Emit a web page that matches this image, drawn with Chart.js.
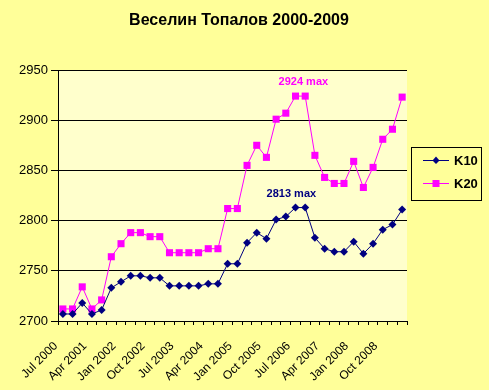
<!DOCTYPE html>
<html>
<head>
<meta charset="utf-8">
<script src="https://cdn.jsdelivr.net/npm/chart.js@4/dist/chart.umd.min.js"></script>
<style>
html,body{margin:0;padding:0;background:#FFFF99;}
#wrap{width:489px;height:390px;position:relative;}
</style>
</head>
<body>
<div id="wrap"><canvas id="c" width="489" height="390"></canvas></div>
<script>
const titleText = "Веселин Топалов 2000-2009";
const categories = ["Jul 2000","Oct 2000","Jan 2001","Apr 2001","Jul 2001","Oct 2001","Jan 2002","Apr 2002","Jul 2002","Oct 2002","Jan 2003","Apr 2003","Jul 2003","Oct 2003","Jan 2004","Apr 2004","Jul 2004","Oct 2004","Jan 2005","Apr 2005","Jul 2005","Oct 2005","Jan 2006","Apr 2006","Jul 2006","Oct 2006","Jan 2007","Apr 2007","Jul 2007","Oct 2007","Jan 2008","Apr 2008","Jul 2008","Oct 2008","Jan 2009","Apr 2009"];
const k10 = [2707,2707,2718,2707,2711,2733,2739,2745,2745,2743,2743,2735,2735,2735,2735,2737,2737,2757,2757,2778,2788,2782,2801,2804,2813,2813,2783,2772,2769,2769,2779,2767,2777,2791,2796,2811];
const k20 = [2712,2712,2734,2712,2721,2764,2777,2788,2788,2784,2784,2768,2768,2768,2768,2772,2772,2812,2812,2855,2875,2863,2901,2907,2924,2924,2865,2843,2837,2837,2859,2833,2853,2881,2891,2923];
const yTicks = [2700,2750,2800,2850,2900,2950];
const seriesNames = ["K10","K20"];
const maxLabels = ["2813 max","2924 max"];

const FONT = "'Liberation Sans', Arial, sans-serif";

const decor = {
  id:'decor',
  beforeDraw(chart){
    const ctx = chart.ctx, a = chart.chartArea;
    ctx.save();
    ctx.fillStyle = '#FFFF99';
    ctx.fillRect(0,0,chart.width,chart.height);
    ctx.fillStyle = '#FFFFCC';
    ctx.fillRect(a.left,a.top,a.right-a.left,a.bottom-a.top);
    ctx.restore();
  },
  afterDraw(chart){
    const ctx = chart.ctx, a = chart.chartArea;
    const xs = chart.scales.x, ys = chart.scales.y;
    ctx.save();
    // title
    ctx.fillStyle = '#000';
    ctx.font = "bold 16px " + FONT;
    ctx.textAlign = 'center';
    ctx.textBaseline = 'middle';
    ctx.fillText(titleText, 239, 21);
    // max annotations
    const i20 = k20.indexOf(Math.max(...k20));
    const i10 = k10.indexOf(Math.max(...k10));
    ctx.font = "bold 11px " + FONT;
    ctx.fillStyle = '#FF00FF';
    ctx.fillText(maxLabels[1], (xs.getPixelForValue(i20)+xs.getPixelForValue(i20+1))/2+3, ys.getPixelForValue(k20[i20]) - 14);
    ctx.fillStyle = '#000080';
    ctx.fillText(maxLabels[0], (xs.getPixelForValue(i10)+xs.getPixelForValue(i10+1))/2-9, ys.getPixelForValue(k10[i10]) - 14);
    // legend
    ctx.fillStyle = '#FFFF99';
    ctx.fillRect(411.5,147.5,70,53);
    ctx.strokeStyle = '#000';
    ctx.lineWidth = 1;
    ctx.strokeRect(411.5,147.5,70,53);
    const ds = chart.data.datasets;
    const ly = [160, 183];
    ds.forEach((d,k)=>{
      const y = ly[k];
      ctx.strokeStyle = d.borderColor;
      ctx.lineWidth = 1;
      ctx.beginPath(); ctx.moveTo(423,y+0.5); ctx.lineTo(449,y+0.5); ctx.stroke();
      ctx.fillStyle = d.pointBackgroundColor;
      if (k===0){
        ctx.beginPath(); ctx.moveTo(436,y-3.5); ctx.lineTo(439.5,y+0.5); ctx.lineTo(436,y+4); ctx.lineTo(432.5,y+0.5); ctx.closePath(); ctx.fill();
      } else {
        ctx.fillRect(432.5,y-3,7,7);
      }
      ctx.fillStyle = '#000';
      ctx.font = "bold 13px " + FONT;
      ctx.textAlign = 'left';
      ctx.fillText(seriesNames[k], 454, y+1);
    });
    ctx.restore();
  }
};

new Chart(document.getElementById('c'), {
  type:'line',
  data:{
    labels: categories,
    datasets:[
      {label:seriesNames[0], data:k10, borderColor:'#000080', backgroundColor:'#000080', pointBackgroundColor:'#000080', pointBorderColor:'#000080', pointStyle:'rectRot', pointRadius:4, pointBorderWidth:0, borderWidth:1, tension:0},
      {label:seriesNames[1], data:k20, borderColor:'#FF00FF', backgroundColor:'#FF00FF', pointBackgroundColor:'#FF00FF', pointBorderColor:'#FF00FF', pointStyle:'rect', pointRadius:5, pointBorderWidth:0, borderWidth:1, tension:0}
    ]
  },
  options:{
    responsive:false,
    animation:false,
    devicePixelRatio:1,
    layout:{padding:{top:70,right:82,left:0,bottom:0}},
    plugins:{legend:{display:false}, title:{display:false}, tooltip:{enabled:false}},
    scales:{
      x:{
        type:'category',
        offset:true,
        afterFit(s){ s.height = 69; },
        grid:{display:true, drawOnChartArea:false, color:'#000', tickLength:4, offset:true},
        border:{display:true, color:'#000', width:1},
        ticks:{
          autoSkip:false, maxRotation:45, minRotation:45, padding:14, labelOffset:-7,
          color:'#000', font:{family:FONT, size:12},
          callback(v,i){ return i%3===0 ? categories[i] : ''; }
        }
      },
      y:{
        min:2700, max:2950,
        afterFit(s){ s.width = 58; },
        afterBuildTicks(s){ s.ticks = yTicks.map(v=>({value:v})); },
        grid:{color:'#000', lineWidth:1, tickLength:7, drawTicks:true},
        border:{display:true, color:'#000', width:1},
        ticks:{color:'#000', padding:3, font:{family:FONT, size:13}, callback(v){ return String(v); }}
      }
    }
  },
  plugins:[decor]
});
</script>
</body>
</html>
